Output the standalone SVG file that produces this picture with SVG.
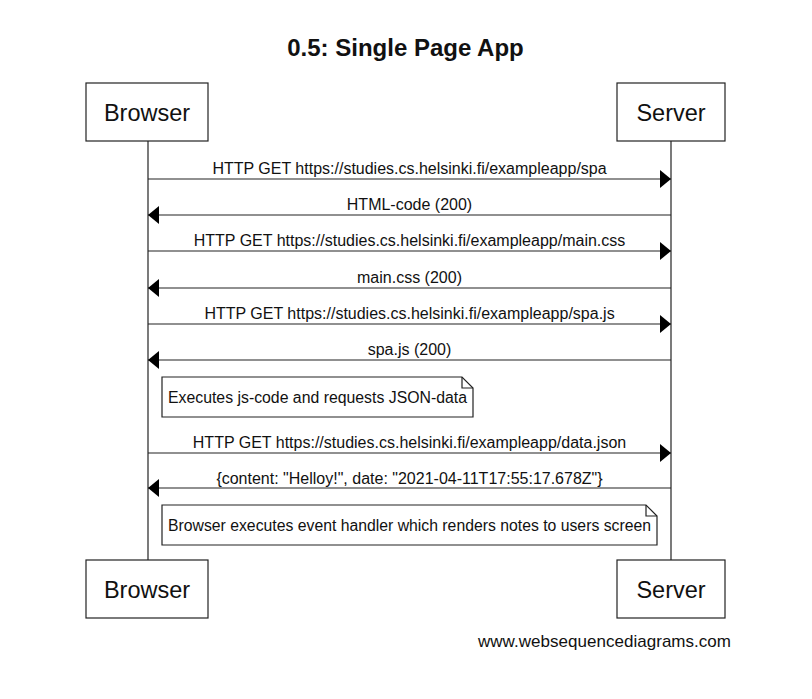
<svg xmlns="http://www.w3.org/2000/svg" width="812" height="699" viewBox="0 0 812 699">
<style>
  text { font-family: "Liberation Sans", Arial, sans-serif; fill: #111; }
  .title { font-size: 24px; font-weight: bold; text-anchor: middle; }
  .actor { font-size: 23.5px; text-anchor: middle; }
  .msg { font-size: 16px; text-anchor: middle; }
  .note { font-size: 15.8px; }
  .box { fill: #fff; stroke: #222; stroke-width: 1.2; }
  .life { stroke: #222; stroke-width: 1.2; fill: none; }
  .arrow { stroke: #222; stroke-width: 1.2; fill: none; marker-end: url(#head); }
  .notebox { fill: #fff; stroke: #222; stroke-width: 1.2; }
  .fold { fill: none; stroke: #222; stroke-width: 1.2; }
  .wm { font-size: 17px; }
</style>
<defs>
  <marker id="head" viewBox="0 0 11 18" refX="11" refY="9" markerWidth="11" markerHeight="18" markerUnits="userSpaceOnUse" orient="auto">
    <path d="M0,0 L11,9 L0,18 Z" fill="#000"/>
  </marker>
</defs>
<rect width="812" height="699" fill="#fff"/>
<text class="title" x="405.5" y="56">0.5: Single Page App</text>

<g id="lifelines">
  <line class="life" x1="148" y1="141" x2="148" y2="560"/>
  <line class="life" x1="671" y1="141" x2="671" y2="560"/>
</g>

<g id="browser-top">
  <rect class="box" x="86" y="83" width="122" height="58"/>
  <text class="actor" x="147" y="120.5">Browser</text>
</g>
<g id="server-top">
  <rect class="box" x="617" y="83" width="108" height="58"/>
  <text class="actor" x="671" y="120.5">Server</text>
</g>
<g id="browser-bottom">
  <rect class="box" x="86" y="560" width="122" height="58"/>
  <text class="actor" x="147" y="597.5">Browser</text>
</g>
<g id="server-bottom">
  <rect class="box" x="617" y="560" width="108" height="58"/>
  <text class="actor" x="671" y="597.5">Server</text>
</g>

<g id="connectors">
  <line class="arrow" x1="148" y1="179" x2="671" y2="179"/>
  <text class="msg" x="409.5" y="174">HTTP GET https://studies.cs.helsinki.fi/exampleapp/spa</text>
  <line class="arrow" x1="671" y1="215" x2="148" y2="215"/>
  <text class="msg" x="409.5" y="210">HTML-code (200)</text>
  <line class="arrow" x1="148" y1="251" x2="671" y2="251"/>
  <text class="msg" x="409.5" y="246">HTTP GET https://studies.cs.helsinki.fi/exampleapp/main.css</text>
  <line class="arrow" x1="671" y1="288" x2="148" y2="288"/>
  <text class="msg" x="409.5" y="283">main.css (200)</text>
  <line class="arrow" x1="148" y1="324" x2="671" y2="324"/>
  <text class="msg" x="409.5" y="319">HTTP GET https://studies.cs.helsinki.fi/exampleapp/spa.js</text>
  <line class="arrow" x1="671" y1="360" x2="148" y2="360"/>
  <text class="msg" x="409.5" y="355">spa.js (200)</text>
  <line class="arrow" x1="148" y1="453" x2="671" y2="453"/>
  <text class="msg" x="409.5" y="448">HTTP GET https://studies.cs.helsinki.fi/exampleapp/data.json</text>
  <line class="arrow" x1="671" y1="488" x2="148" y2="488"/>
  <text class="msg" x="409.5" y="484">{content: "Helloy!", date: "2021-04-11T17:55:17.678Z"}</text>
</g>

<g id="note1">
  <path class="notebox" d="M162,377 H462 L473,388 V417 H162 Z"/>
  <path class="fold" d="M462,377 V388 H473"/>
  <text class="note" x="168" y="402.5" textLength="299" lengthAdjust="spacingAndGlyphs">Executes js-code and requests JSON-data</text>
</g>
<g id="note2">
  <path class="notebox" d="M162,505 H646 L657,516 V545 H162 Z"/>
  <path class="fold" d="M646,505 V516 H657"/>
  <text class="note" x="168" y="530.5" textLength="483" lengthAdjust="spacingAndGlyphs">Browser executes event handler which renders notes to users screen</text>
</g>

<text class="wm" x="478" y="647" textLength="253">www.websequencediagrams.com</text>
</svg>
